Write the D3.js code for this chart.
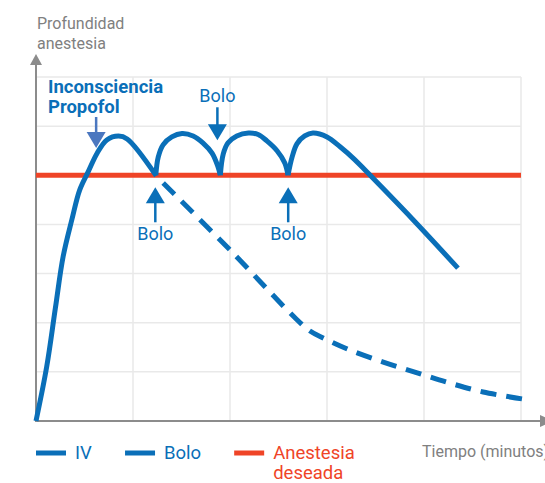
<!DOCTYPE html>
<html>
<head>
<meta charset="utf-8">
<script src="https://cdnjs.cloudflare.com/ajax/libs/d3/7.8.5/d3.min.js"></script>
<style>
    body { margin: 0; background: #fff; }
    svg { display: block; font-family: Roboto, "Noto Sans", sans-serif; }
    .grid line { stroke: #e9e9e9; stroke-width: 1.5; }
    .axis-line { stroke: #8c8c8c; stroke-width: 2; }
    .axis-label { fill: #808080; font-size: 16px; }
    .blue-text { fill: #0a6fb8; }
</style>
</head>
<body>
<div id="chart-area"></div>
<script>
// time (grid units of 10), anesthesia depth (grid units of 1)
var xTicks = [10, 20, 30, 40, 50];
var yTicks = [1, 2, 3, 4, 5, 6, 7];

// IV induction curve
var ivData = [[0, 0], [1.1, 1.1], [2, 2.3], [2.8, 3.35], [3.7, 4.1], [4.5, 4.7], [5.4, 5.08],
    [6.3, 5.45], [7.3, 5.72], [8.5, 5.8], [9.4, 5.74], [12.4, 4.99]];

// bolus curves (each one starts at a cusp)
var bolo1 = [[12.35, 5.0], [12.6, 5.37], [13.1, 5.62], [14.0, 5.78], [15.05, 5.85], [16.2, 5.8],
    [17.2, 5.66], [18.15, 5.45], [18.75, 5.18], [19.0, 5.0]];
var bolo2 = [[19.0, 5.0], [19.3, 5.43], [19.8, 5.66], [20.7, 5.8], [21.9, 5.86], [22.9, 5.83],
    [23.8, 5.7], [24.85, 5.5], [25.65, 5.25], [25.98, 5.0]];
var bolo3 = [[25.98, 5.0], [26.4, 5.37], [26.9, 5.64], [27.7, 5.8], [28.55, 5.86], [30.0, 5.78],
    [31.35, 5.58], [32.8, 5.33], [34.1, 5.07], [38.8, 4.11], [43.5, 3.11]];

// decay without further bolus
var noBoloData = [[12.37, 4.99], [20.0, 3.48], [26.7, 2.1], [28.25, 1.83], [29.6, 1.69], [32.4, 1.44],
    [35.8, 1.2], [39.3, 0.98], [42.7, 0.77], [46.1, 0.59], [50.1, 0.45]];

var targetDepth = 5;

// annotations
var inductionTime = 6.2;
var inductionLabel = ["Inconsciencia", "Propofol"];
var boloMarks = [{ t: 12.3, dir: "up" }, { t: 18.7, dir: "down" }, { t: 26.0, dir: "up" }];

var legendItems = [
    { label: ["IV"], color: "#0a6fb8" },
    { label: ["Bolo"], color: "#0a6fb8" },
    { label: ["Anestesia", "deseada"], color: "#ef4427" }
];

var blue = "#0a6fb8";
var red = "#ef4427";

var svg = d3.select("#chart-area").append("svg")
    .attr("width", 545)
    .attr("height", 483);

var x = d3.scaleLinear().domain([0, 50]).range([36, 521]);
var y = d3.scaleLinear().domain([0, 7]).range([421, 77]);

//======= Grid ======//
var grid = svg.append("g").attr("class", "grid");
grid.selectAll(".vgrid").data(xTicks).enter()
    .append("line")
    .attr("x1", function(d) { return x(d); })
    .attr("x2", function(d) { return x(d); })
    .attr("y1", y(0))
    .attr("y2", y(7));
grid.selectAll(".hgrid").data(yTicks).enter()
    .append("line")
    .attr("x1", x(0))
    .attr("x2", x(50))
    .attr("y1", function(d) { return y(d); })
    .attr("y2", function(d) { return y(d); });

//======= Axes with arrows ======//
svg.append("line").attr("class", "axis-line")
    .attr("x1", x(0)).attr("x2", 541)
    .attr("y1", y(0)).attr("y2", y(0));
svg.append("path")
    .attr("d", "M540," + (y(0) - 6) + "L553," + y(0) + "L540," + (y(0) + 6) + "Z")
    .attr("fill", "#8c8c8c");
svg.append("line").attr("class", "axis-line")
    .attr("x1", x(0)).attr("x2", x(0))
    .attr("y1", y(0) + 1).attr("y2", 64);
svg.append("path")
    .attr("d", "M" + (x(0) - 6) + ",65L" + x(0) + ",54L" + (x(0) + 6) + ",65Z")
    .attr("fill", "#8c8c8c");

svg.append("text").attr("class", "axis-label")
    .attr("x", 37).attr("y", 29).text("Profundidad");
svg.append("text").attr("class", "axis-label")
    .attr("x", 37).attr("y", 49).text("anestesia");
// the reference crops this label at the right edge
svg.append("text").attr("class", "axis-label")
    .attr("x", 422).attr("y", 457).text("Tiempo (minutos)");

//======= Target line ======//
svg.append("line")
    .attr("x1", x(0)).attr("x2", x(50))
    .attr("y1", y(targetDepth)).attr("y2", y(targetDepth))
    .attr("stroke", red)
    .attr("stroke-width", 5);

//======= Curves ======//
var valueLine = d3.line()
    .x(function(d) { return x(d[0]); })
    .y(function(d) { return y(d[1]); })
    .curve(d3.curveCatmullRom.alpha(0.5));

var dashed = svg.append("path")
    .datum(noBoloData)
    .attr("d", valueLine)
    .attr("fill", "none")
    .attr("stroke", blue)
    .attr("stroke-width", 5)
    .attr("stroke-dasharray", "16,10");

// make the dash pattern finish on a dash at the right end
var len = dashed.node().getTotalLength();
dashed.attr("stroke-dashoffset", ((16 - len % 26) % 26 + 26) % 26);

svg.selectAll(".solid").data([ivData, bolo1, bolo2, bolo3]).enter()
    .append("path")
    .attr("class", "solid")
    .attr("d", valueLine)
    .attr("fill", "none")
    .attr("stroke", blue)
    .attr("stroke-width", 5)
    .attr("stroke-linejoin", "round");

//======= Annotations ======//
function arrow(cx, tipY, dir, color, len) {
    var s = dir === "up" ? 1 : -1;
    var g = svg.append("g");
    g.append("line")
        .attr("x1", cx).attr("x2", cx)
        .attr("y1", tipY + s * 14).attr("y2", tipY + s * len)
        .attr("stroke", color).attr("stroke-width", 2.5);
    g.append("path")
        .attr("d", "M" + cx + "," + tipY + "L" + (cx - 9.5) + "," + (tipY + s * 16) +
            "L" + (cx + 9.5) + "," + (tipY + s * 16) + "Z")
        .attr("fill", color);
}

// induction
svg.selectAll(".ind-label").data(inductionLabel).enter()
    .append("text")
    .attr("class", "blue-text")
    .attr("x", 48)
    .attr("y", function(d, i) { return 93 + i * 20; })
    .style("font-size", "18.5px")
    .style("font-weight", "bold")
    .text(function(d) { return d; });
arrow(x(inductionTime), 148, "down", "#4b77bf", 31);

// boluses
boloMarks.forEach(function(m) {
    var cx = x(m.t);
    if (m.dir === "up") {
        arrow(cx, y(targetDepth) + 12, "up", blue, 35);
        svg.append("text").attr("class", "blue-text")
            .attr("x", cx).attr("y", 240)
            .attr("text-anchor", "middle")
            .style("font-size", "18px")
            .text("Bolo");
    } else {
        arrow(cx, y(targetDepth) - 35, "down", blue, 33);
        svg.append("text").attr("class", "blue-text")
            .attr("x", cx).attr("y", 102)
            .attr("text-anchor", "middle")
            .style("font-size", "18px")
            .text("Bolo");
    }
});

//======= Legend ======//
var lx = 36;
legendItems.forEach(function(item) {
    svg.append("line")
        .attr("x1", lx).attr("x2", lx + 30)
        .attr("y1", 453).attr("y2", 453)
        .attr("stroke", item.color)
        .attr("stroke-width", 5);
    var t = svg.append("text")
        .attr("x", lx + 39).attr("y", 459)
        .attr("fill", item.color)
        .style("font-size", "18.5px");
    t.selectAll("tspan").data(item.label).enter()
        .append("tspan")
        .attr("x", lx + 39)
        .attr("dy", function(d, i) { return i === 0 ? 0 : 20; })
        .text(function(d) { return d; });
    lx = lx + 39 + t.node().getBBox().width + 33;
});
</script>
</body>
</html>
